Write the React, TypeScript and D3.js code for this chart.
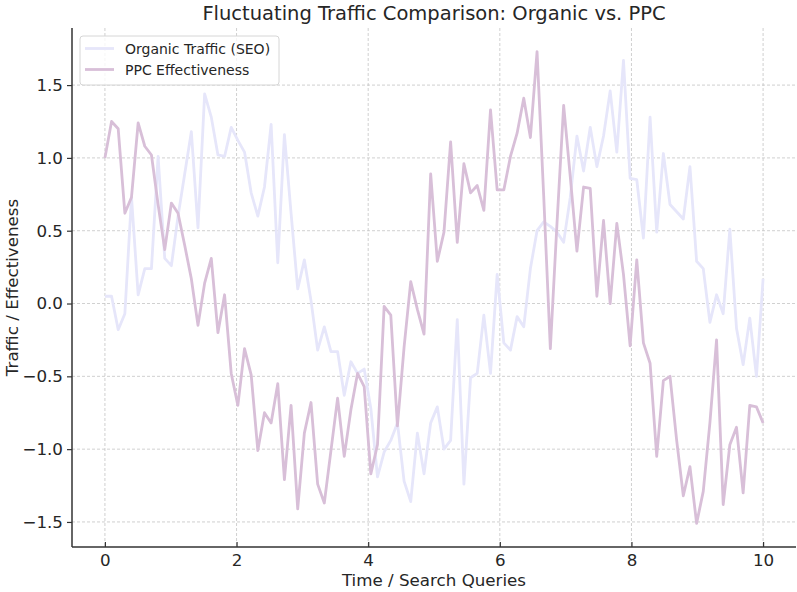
import React, { useEffect, useRef } from "react";
import * as d3 from "d3";

// sample positions: 100 evenly spaced steps from 0 to 10
const stepCount = 100;
const xMax = 10;

const organicTraffic = [
  0.05, 0.05, -0.18, -0.07, 0.73, 0.06, 0.24, 0.24, 1.01, 0.31,
  0.26, 0.6, 0.89, 1.18, 0.52, 1.44, 1.28, 1.02, 1.01, 1.21,
  1.12, 1.04, 0.76, 0.6, 0.8, 1.23, 0.28, 1.16, 0.62, 0.1,
  0.3, 0.02, -0.32, -0.16, -0.33, -0.33, -0.63, -0.4, -0.48, -0.45,
  -0.72, -1.19, -1.02, -0.94, -0.82, -1.22, -1.36, -0.89, -1.17, -0.82,
  -0.71, -1.0, -0.94, -0.11, -1.24, -0.51, -0.48, -0.08, -0.48, 0.2,
  -0.27, -0.32, -0.09, -0.16, 0.24, 0.5, 0.56, 0.53, 0.49, 0.42,
  0.73, 1.15, 0.91, 1.21, 0.94, 1.15, 1.46, 1.04, 1.67, 0.86,
  0.85, 0.45, 1.28, 0.49, 1.03, 0.68, 0.63, 0.58, 0.94, 0.29,
  0.24, -0.13, 0.06, -0.07, 0.51, -0.17, -0.42, -0.1, -0.5, 0.17,
];

const ppcEffectiveness = [
  1.0, 1.25, 1.2, 0.62, 0.73, 1.24, 1.08, 1.02, 0.68, 0.37,
  0.69, 0.62, 0.4, 0.17, -0.15, 0.14, 0.31, -0.2, 0.06, -0.48,
  -0.7, -0.31, -0.49, -1.01, -0.75, -0.82, -0.55, -1.21, -0.7, -1.41,
  -0.89, -0.68, -1.24, -1.37, -1.01, -0.65, -1.05, -0.73, -0.48, -0.57,
  -1.17, -0.97, -0.02, -0.08, -0.84, -0.3, 0.15, -0.04, -0.21, 0.89,
  0.29, 0.49, 1.11, 0.42, 0.96, 0.76, 0.81, 0.64, 1.33, 0.78,
  0.78, 1.01, 1.17, 1.41, 1.14, 1.73, 0.74, -0.31, 0.55, 1.36,
  0.87, 0.36, 0.8, 0.79, 0.05, 0.57, 0.0, 0.55, 0.2, -0.29,
  0.3, -0.27, -0.41, -1.05, -0.53, -0.5, -0.94, -1.32, -1.12, -1.51,
  -1.29, -0.82, -0.25, -1.38, -0.97, -0.85, -1.3, -0.7, -0.71, -0.82,
];

const seriesNames = ["Organic Traffic (SEO)", "PPC Effectiveness"];
const seriesColors = ["#e6e6fa", "#d8bfd8"];

const xTicks = [0, 2, 4, 6, 8, 10];
const yTicks = [-1.5, -1.0, -0.5, 0.0, 0.5, 1.0, 1.5];

const TrafficChart = () => {
  const svgRef = useRef<SVGSVGElement | null>(null);

  useEffect(() => {
    const width = 797;
    const height = 592;
    const margin = { top: 28, right: 1, bottom: 45, left: 72 };
    const font = "'DejaVu Sans', sans-serif";

    const svg = d3.select(svgRef.current);
    svg.selectAll("*").remove();
    svg.attr("width", width).attr("height", height);

    const xs = d3.range(stepCount).map((i) => (i * xMax) / (stepCount - 1));
    const series = [organicTraffic, ppcEffectiveness];

    // axis limits padded by 5% like matplotlib
    const xPad = xMax * 0.05;
    const all = series.flat();
    const yMin = d3.min(all) as number;
    const yMaxV = d3.max(all) as number;
    const yPad = (yMaxV - yMin) * 0.05;

    const x = d3
      .scaleLinear()
      .domain([-xPad, xMax + xPad])
      .range([margin.left, width - margin.right]);
    const y = d3
      .scaleLinear()
      .domain([yMin - yPad, yMaxV + yPad])
      .range([height - margin.bottom, margin.top]);

    const plotTop = margin.top;
    const plotBottom = height - margin.bottom;

    // grid
    const grid = svg.append("g");
    grid
      .selectAll("line.gx")
      .data(xTicks)
      .enter()
      .append("line")
      .attr("x1", (d) => x(d))
      .attr("x2", (d) => x(d))
      .attr("y1", plotTop)
      .attr("y2", plotBottom)
      .attr("stroke", "#c4c4c4")
      .attr("stroke-width", 0.8)
      .attr("stroke-dasharray", "3,2");
    grid
      .selectAll("line.gy")
      .data(yTicks)
      .enter()
      .append("line")
      .attr("x1", margin.left)
      .attr("x2", width - margin.right)
      .attr("y1", (d) => y(d))
      .attr("y2", (d) => y(d))
      .attr("stroke", "#c4c4c4")
      .attr("stroke-width", 0.8)
      .attr("stroke-dasharray", "3,2");

    // series lines
    const line = d3
      .line<number>()
      .x((_, i) => x(xs[i]))
      .y((d) => y(d));

    series.forEach((values, k) => {
      svg
        .append("path")
        .datum(values)
        .attr("d", line)
        .attr("fill", "none")
        .attr("stroke", seriesColors[k])
        .attr("stroke-width", 2.8)
        .attr("stroke-linejoin", "round");
    });

    // axes (x ticks point into the plot, y ticks outward)
    const fmt = (d: number) => (d < 0 ? "\u2212" : "") + Math.abs(d).toFixed(1);

    const xAxis = svg
      .append("g")
      .attr("transform", `translate(0,${plotBottom})`)
      .call(d3.axisBottom(x).tickValues(xTicks).tickSizeInner(-5).tickSizeOuter(0).tickPadding(7).tickFormat((d) => String(d)));
    const yAxis = svg
      .append("g")
      .attr("transform", `translate(${margin.left},0)`)
      .call(d3.axisLeft(y).tickValues(yTicks).tickSize(5).tickPadding(4).tickFormat((d) => fmt(d as number)));

    [xAxis, yAxis].forEach((ax) => {
      ax.select(".domain").attr("stroke", "#333").attr("stroke-width", 1.5);
      ax.selectAll(".tick line").attr("stroke", "#333").attr("stroke-width", 1.2);
      ax.selectAll(".tick text")
        .attr("fill", "#262626")
        .style("font-family", font)
        .style("font-size", "16.7px");
    });
    // span the whole axis instead of the tick range
    xAxis.select(".domain").attr("d", `M${margin.left},0H${width - margin.right}`);
    yAxis.select(".domain").attr("d", `M0,${plotTop}V${plotBottom}`);

    // labels
    svg
      .append("text")
      .attr("x", (margin.left + width - margin.right) / 2)
      .attr("y", 20)
      .attr("text-anchor", "middle")
      .attr("fill", "#262626")
      .style("font-family", font)
      .style("font-size", "19.5px")
      .text("Fluctuating Traffic Comparison: Organic vs. PPC");

    svg
      .append("text")
      .attr("x", (margin.left + width - margin.right) / 2)
      .attr("y", 586)
      .attr("text-anchor", "middle")
      .attr("fill", "#262626")
      .style("font-family", font)
      .style("font-size", "16.7px")
      .text("Time / Search Queries");

    svg
      .append("text")
      .attr("transform", `translate(18,${(plotTop + plotBottom) / 2}) rotate(-90)`)
      .attr("text-anchor", "middle")
      .attr("fill", "#262626")
      .style("font-family", font)
      .style("font-size", "16.7px")
      .text("Traffic / Effectiveness");

    // legend
    const legend = svg.append("g").attr("transform", "translate(80,36)");
    legend
      .append("rect")
      .attr("width", 199)
      .attr("height", 49)
      .attr("rx", 3)
      .attr("fill", "white")
      .attr("fill-opacity", 0.8)
      .attr("stroke", "#d6d6d6")
      .attr("stroke-width", 1);
    seriesNames.forEach((name, k) => {
      const ly = 12.5 + k * 21;
      legend
        .append("line")
        .attr("x1", 5)
        .attr("x2", 34)
        .attr("y1", ly)
        .attr("y2", ly)
        .attr("stroke", seriesColors[k])
        .attr("stroke-width", 2.8);
      legend
        .append("text")
        .attr("x", 45)
        .attr("y", ly + 5)
        .attr("fill", "#262626")
        .style("font-family", font)
        .style("font-size", "14px")
        .text(name);
    });
  }, []);

  return <svg ref={svgRef}></svg>;
};

export default function App() {
  return (
    <div style={{ position: "absolute", left: 0, top: 0 }}>
      <TrafficChart />
    </div>
  );
}
